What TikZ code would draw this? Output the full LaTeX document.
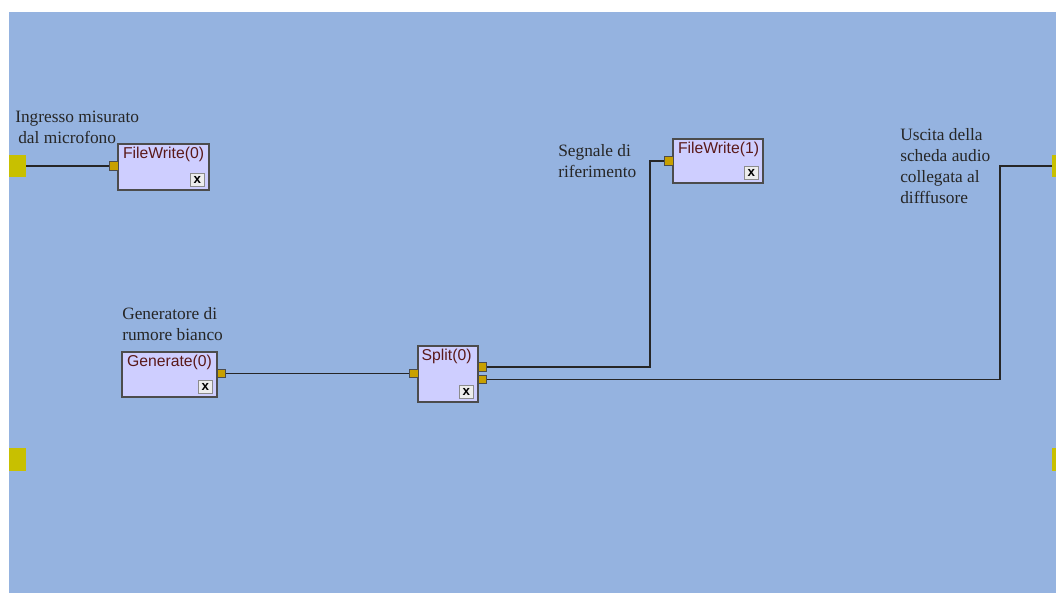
\documentclass[tikz,border=0pt]{standalone}
\usepackage{fontspec}
\setmainfont{Liberation Serif}
\setsansfont{Liberation Sans}
\definecolor{bg}{RGB}{149,179,224}
\definecolor{boxfill}{RGB}{206,206,255}
\definecolor{portc}{RGB}{200,160,0}
\definecolor{termc}{RGB}{200,192,0}
\definecolor{titlec}{RGB}{90,25,25}
\begin{document}
\begin{tikzpicture}[x=0.75pt,y=-0.75pt,
 blk/.style={draw=black!70, fill=boxfill, line width=0.8pt, inner sep=0, rectangle},
 ttl/.style={anchor=north west, inner sep=0, font=\sffamily\fontsize{11.8}{12}\selectfont, text=titlec},
 xbtn/.style={draw=black!45, fill=white!93!black, minimum size=10pt, inner sep=0, font=\sffamily\bfseries\fontsize{10}{10}\selectfont, anchor=south east},
 portbox/.style={draw=black!70, fill=portc, minimum size=6.5pt, inner sep=0, line width=0.6pt},
 termL/.style={fill=termc, inner sep=0, minimum width=12.75pt, minimum height=17pt},
 termR/.style={fill=termc, inner sep=0, minimum width=3pt, minimum height=17pt},
 wire/.style={draw=black!85, line width=0.8pt},
 lbl/.style={anchor=north west, inner sep=0, align=left, font=\fontsize{13}{15.7}\selectfont, text=black!85}]
\useasboundingbox (0,0) rectangle (1056,593);
\fill[white] (0,0) rectangle (1056,593);
\fill[bg] (9,12) rectangle (1056,593);

% terminals
\node[termL] (inL) at (17.5,166) {};
\node[termL] (inL2) at (17.5,459.5) {};
\node[termR] (outR) at (1054,166) {};
\node[termR] (outR2) at (1054,459.5) {};

% blocks
\node[blk, minimum width=68.25pt, minimum height=34.5pt] (fw0) at (163.5,167) {};
\node[ttl] (fw0t) at ([xshift=4pt,yshift=-2.5pt]fw0.north west) {FileWrite(0)};
\node[xbtn] (fw0x) at ([xshift=-4pt,yshift=3pt]fw0.south east) {x};
\node[portbox] (fw0in) at (114,166) {};

\node[blk, minimum width=71.25pt, minimum height=33.75pt] (gen) at (169.5,374.5) {};
\node[ttl] (gent) at ([xshift=4pt,yshift=-2.5pt]gen.north west) {Generate(0)};
\node[xbtn] (genx) at ([xshift=-4pt,yshift=3pt]gen.south east) {x};
\node[portbox] (genout) at (221.5,373.5) {};

\node[blk, minimum width=45pt, minimum height=42pt] (split) at (448,374) {};
\node[ttl] (splitt) at ([xshift=3pt,yshift=-2.5pt]split.north west) {Split(0)};
\node[xbtn] (splitx) at ([xshift=-4pt,yshift=3pt]split.south east) {x};
\node[portbox] (splitin) at (414,373.5) {};
\node[portbox] (so1) at (482.5,367) {};
\node[portbox] (so2) at (482.5,379.5) {};

\node[blk, minimum width=67.5pt, minimum height=33pt] (fw1) at (718,161) {};
\node[ttl] (fw1t) at ([xshift=4pt,yshift=-2.5pt]fw1.north west) {FileWrite(1)};
\node[xbtn] (fw1x) at ([xshift=-4pt,yshift=3pt]fw1.south east) {x};
\node[portbox] (fw1in) at (669,161) {};

% routing points
\coordinate (r1a) at (650,367);
\coordinate (r1b) at (650,161);
\coordinate (r2a) at (1000,379.5);
\coordinate (r2b) at (1000,166);

% wires
\draw[wire] (inL.east) -- (fw0in.west);
\draw[wire] (genout.east) -- (splitin.west);
\draw[wire] (so1.east) -- (r1a) -- (r1b) -- (fw1in.west);
\draw[wire] (so2.east) -- (r2a) -- (r2b) -- (outR.west);

% labels
\node[lbl] (l1) at (15,111) {Ingresso misurato\\\hspace*{2.3pt}dal microfono};
\node[lbl] (l2) at (122,307) {Generatore di\\rumore bianco};
\node[lbl] (l3) at (558,144) {Segnale di\\riferimento};
\node[lbl] (l4) at (900,128) {Uscita della\\scheda audio\\collegata al\\difffusore};
\end{tikzpicture}
\end{document}
